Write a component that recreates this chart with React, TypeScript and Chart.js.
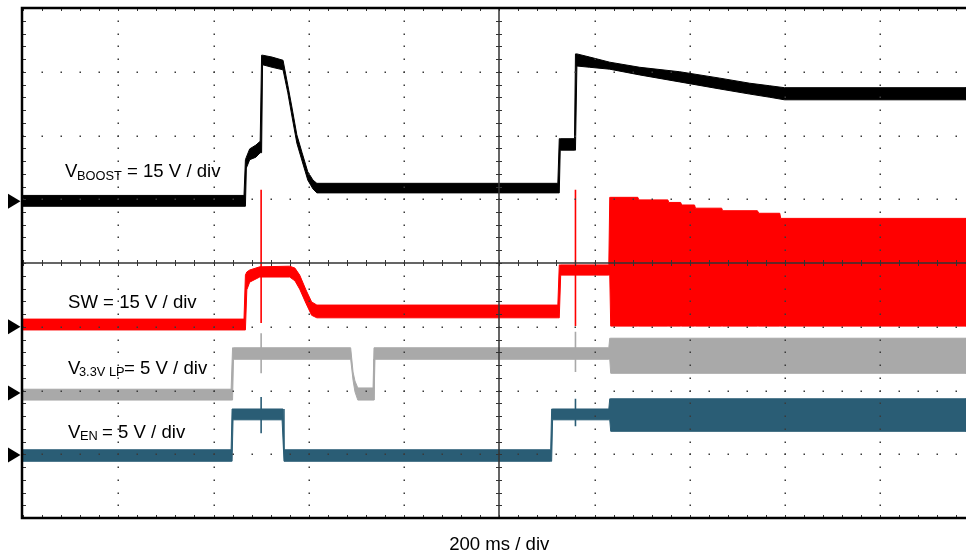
import React, { useEffect, useRef } from 'react';
import { Chart, registerables } from 'chart.js';
Chart.register(...registerables);

// Horizontal axis: time in ms from the left edge of the screen (200 ms / div)
const timeMax = 1980;
const msPerDiv = 200;
// Vertical axis: screen divisions, 0 = bottom, 8 = top
const yDivs = 8;

// V_BOOST trace envelope (upper / lower edge of the noisy band)
const boostT = [0, 464, 467, 469, 476, 489, 498, 501, 503, 523, 546, 556, 565, 575, 586, 598, 609, 617, 1123, 1126, 1128, 1158, 1160, 1163, 1190, 1232, 1295, 1379, 1463, 1526, 1568, 1599, 1980];
const boostHi = [5.06, 5.06, 5.62, 5.66, 5.79, 5.85, 5.91, 7.26, 7.26, 7.23, 7.18, 6.79, 6.43, 6.01, 5.73, 5.43, 5.30, 5.25, 5.25, 5.95, 5.95, 5.95, 7.28, 7.28, 7.23, 7.15, 7.07, 7.00, 6.90, 6.82, 6.78, 6.75, 6.75];
const boostLo = [4.89, 4.89, 4.89, 5.49, 5.62, 5.66, 5.73, 5.73, 7.11, 7.07, 7.03, 6.67, 6.29, 5.88, 5.60, 5.30, 5.16, 5.10, 5.10, 5.10, 5.77, 5.77, 5.77, 7.09, 7.07, 7.04, 6.95, 6.84, 6.73, 6.65, 6.60, 6.56, 6.56];

// SW trace envelope
const swT = [0, 464, 467, 470, 476, 497, 560, 571, 581, 594, 606, 617, 1123, 1126, 1129, 1230, 1232, 1234, 1291, 1293, 1354, 1356, 1381, 1383, 1410, 1412, 1467, 1469, 1542, 1545, 1589, 1591, 1980];
const swHi = [3.12, 3.12, 3.81, 3.86, 3.89, 3.94, 3.95, 3.92, 3.81, 3.58, 3.39, 3.34, 3.34, 3.97, 3.97, 3.97, 5.03, 5.03, 5.03, 4.99, 4.99, 4.95, 4.95, 4.91, 4.91, 4.86, 4.86, 4.82, 4.82, 4.78, 4.78, 4.70, 4.70];
const swLo = [2.95, 2.95, 2.95, 3.58, 3.70, 3.78, 3.78, 3.72, 3.59, 3.37, 3.18, 3.14, 3.14, 3.14, 3.81, 3.81, 3.81, 3.01, 3.01, 3.01, 3.01, 3.01, 3.01, 3.01, 3.01, 3.01, 3.01, 3.01, 3.01, 3.01, 3.01, 3.01, 3.01];

// V_3.3V LP trace envelope
const lpT = [0, 437, 440, 442, 688, 693, 697, 703, 735, 737, 739, 1230, 1232, 1234, 1980];
const lpHi = [2.02, 2.02, 2.67, 2.67, 2.67, 2.29, 2.15, 2.04, 2.04, 2.67, 2.67, 2.67, 2.82, 2.82, 2.82];
const lpLo = [1.85, 1.85, 1.85, 2.49, 2.49, 2.16, 1.98, 1.85, 1.85, 1.85, 2.49, 2.49, 2.49, 2.27, 2.27];

// V_EN trace envelope
const enT = [0, 437, 439, 441, 544, 546, 548, 1108, 1110, 1112, 1230, 1232, 1234, 1980];
const enHi = [1.07, 1.07, 1.71, 1.71, 1.71, 1.71, 1.07, 1.07, 1.71, 1.71, 1.71, 1.87, 1.87, 1.87];
const enLo = [0.89, 0.89, 0.89, 1.54, 1.54, 0.89, 0.89, 0.89, 0.89, 1.54, 1.54, 1.54, 1.36, 1.36];

// Glitch spikes
const spikeT = [500, 1160];
const swSpikeHi = [5.15, 5.15];
const swSpikeLo = [3.06, 3.01];
const lpSpikeHi = [2.90, 2.92];
const lpSpikeLo = [2.27, 2.29];
const enSpikeHi = [1.90, 1.87];
const enSpikeLo = [1.33, 1.44];

// Channel ground markers (divisions)
const markerLevels = [4.97, 3.0, 1.96, 0.99];

const channelMain = ['V', 'SW', 'V', 'V'];
const channelSub = ['BOOST', '', '3.3V LP', 'EN'];
const channelScale = ['= 15 V / div', ' = 15 V / div', '= 5 V / div', '= 5 V / div'];
const timeLabel = '200 ms / div';

const COLORS = ['#000000', '#ff0000', '#a9a9a9', '#2a5d75'];

function band(t: number[], hi: number[], lo: number[]) {
  const pts = t.map((x, i) => ({ x, y: hi[i] }));
  for (let i = t.length - 1; i >= 0; i--) pts.push({ x: t[i], y: lo[i] });
  return pts;
}

const FONT = '"Liberation Sans", Arial, Helvetica, sans-serif';

const scopePlugin = {
  id: 'scope',
  afterDatasetsDraw(chart: any) {
    const { ctx, chartArea: a, scales } = chart;
    const xs = scales.x;
    const ys = scales.y;
    ctx.save();
    // dotted graticule
    ctx.fillStyle = '#3a3a3a';
    const nx = Math.floor(timeMax / msPerDiv);
    for (let i = 1; i <= nx; i++) {
      if (i === 5) continue;
      const px = Math.round(xs.getPixelForValue(i * msPerDiv));
      if (px > a.right) continue;
      for (let j = 0; j <= yDivs * 5; j++) {
        const py = Math.round(ys.getPixelForValue(j / 5));
        ctx.fillRect(px - 0.5, py - 0.5, 1.5, 1.5);
      }
    }
    for (let j = 1; j < yDivs; j++) {
      if (j === 4) continue;
      const py = Math.round(ys.getPixelForValue(j));
      for (let k = 0; k <= (timeMax / msPerDiv) * 5; k++) {
        const px = Math.round(xs.getPixelForValue((k * msPerDiv) / 5));
        ctx.fillRect(px - 0.5, py - 0.5, 1.5, 1.5);
      }
    }
    // centre cross
    ctx.strokeStyle = '#333';
    ctx.lineWidth = 1.5;
    const cx = Math.round(xs.getPixelForValue(5 * msPerDiv));
    const cy = Math.round(ys.getPixelForValue(4));
    ctx.beginPath();
    ctx.moveTo(a.left, cy);
    ctx.lineTo(a.right, cy);
    ctx.moveTo(cx, a.top);
    ctx.lineTo(cx, a.bottom);
    ctx.stroke();
    ctx.lineWidth = 1;
    ctx.beginPath();
    for (let k = 0; k <= (timeMax / msPerDiv) * 5; k++) {
      const px = Math.round(xs.getPixelForValue((k * msPerDiv) / 5)) + 0.5;
      ctx.moveTo(px, cy - 3);
      ctx.lineTo(px, cy + 3);
      ctx.moveTo(px, a.top);
      ctx.lineTo(px, a.top + 3);
      ctx.moveTo(px, a.bottom - 3);
      ctx.lineTo(px, a.bottom);
    }
    for (let j = 0; j <= yDivs * 5; j++) {
      const py = Math.round(ys.getPixelForValue(j / 5)) + 0.5;
      ctx.moveTo(cx - 3, py);
      ctx.lineTo(cx + 3, py);
      ctx.moveTo(a.left, py);
      ctx.lineTo(a.left + 3, py);
    }
    ctx.stroke();
    // frame
    ctx.strokeStyle = '#000';
    ctx.lineWidth = 2.5;
    ctx.beginPath();
    ctx.moveTo(a.right + 2, a.top);
    ctx.lineTo(a.left - 1, a.top);
    ctx.lineTo(a.left - 1, a.bottom);
    ctx.lineTo(a.right + 2, a.bottom);
    ctx.stroke();

    // ground markers
    ctx.fillStyle = '#000';
    for (const lv of markerLevels) {
      const py = ys.getPixelForValue(lv);
      ctx.beginPath();
      ctx.moveTo(8, py - 7.5);
      ctx.lineTo(20.5, py);
      ctx.lineTo(8, py + 7.5);
      ctx.closePath();
      ctx.fill();
    }

    // channel labels
    const pos = [
      { x: 65, y: 177, sx: 77, sy: 179.5, rx: 127 },
      { x: 68, y: 308, sx: 0, sy: 0, rx: 0 },
      { x: 68, y: 374, sx: 79, sy: 376, rx: 124 },
      { x: 68, y: 438, sx: 80, sy: 440, rx: 102 },
    ];
    ctx.fillStyle = '#000';
    ctx.textBaseline = 'alphabetic';
    ctx.textAlign = 'left';
    channelMain.forEach((m, i) => {
      const p = pos[i];
      ctx.font = `18.6px ${FONT}`;
      if (!channelSub[i]) {
        ctx.fillText(m + channelScale[i], p.x, p.y);
        return;
      }
      ctx.fillText(m, p.x, p.y);
      ctx.fillText(channelScale[i], p.rx, p.y);
      ctx.font = `12.8px ${FONT}`;
      ctx.fillText(channelSub[i], p.sx, p.sy);
    });
    ctx.font = `18.6px ${FONT}`;
    ctx.textAlign = 'center';
    ctx.fillText(timeLabel, xs.getPixelForValue(5 * msPerDiv), 550);
    ctx.restore();
  },
};

export default function App() {
  const ref = useRef<HTMLCanvasElement | null>(null);
  useEffect(() => {
    if (!ref.current) return;
    const traces = [
      { t: boostT, hi: boostHi, lo: boostLo, c: COLORS[0] },
      { t: swT, hi: swHi, lo: swLo, c: COLORS[1] },
      { t: lpT, hi: lpHi, lo: lpLo, c: COLORS[2] },
      { t: enT, hi: enHi, lo: enLo, c: COLORS[3] },
    ];
    const spikes = [
      { hi: swSpikeHi, lo: swSpikeLo, c: COLORS[1] },
      { hi: lpSpikeHi, lo: lpSpikeLo, c: COLORS[2] },
      { hi: enSpikeHi, lo: enSpikeLo, c: COLORS[3] },
    ];
    const datasets: any[] = [];
    traces.forEach((tr) => {
      datasets.push({
        data: band(tr.t, tr.hi, tr.lo),
        borderColor: tr.c,
        backgroundColor: tr.c,
        borderWidth: 1,
        fill: 'shape',
        pointRadius: 0,
        tension: 0,
      });
    });
    spikes.forEach((sp) => {
      spikeT.forEach((t, i) => {
        datasets.push({
          data: [
            { x: t, y: sp.hi[i] },
            { x: t, y: sp.lo[i] },
          ],
          borderColor: sp.c,
          backgroundColor: sp.c,
          borderWidth: 1.6,
          fill: false,
          pointRadius: 0,
        });
      });
    });
    const chart = new Chart(ref.current, {
      type: 'line',
      data: { datasets },
      options: {
        animation: false,
        responsive: false,
        devicePixelRatio: 1,
        events: [],
        layout: { padding: { left: 23, top: 8, right: 0, bottom: 36 } },
        plugins: { legend: { display: false }, tooltip: { enabled: false } },
        scales: {
          x: { type: 'linear', min: 0, max: timeMax, display: false },
          y: { type: 'linear', min: 0, max: yDivs, display: false },
        },
      },
      plugins: [scopePlugin],
    } as any);
    return () => chart.destroy();
  }, []);
  return (
    <div style={{ position: 'absolute', left: 0, top: 0, width: 966, height: 554, background: '#fff' }}>
      <canvas ref={ref} width={966} height={554} />
    </div>
  );
}
